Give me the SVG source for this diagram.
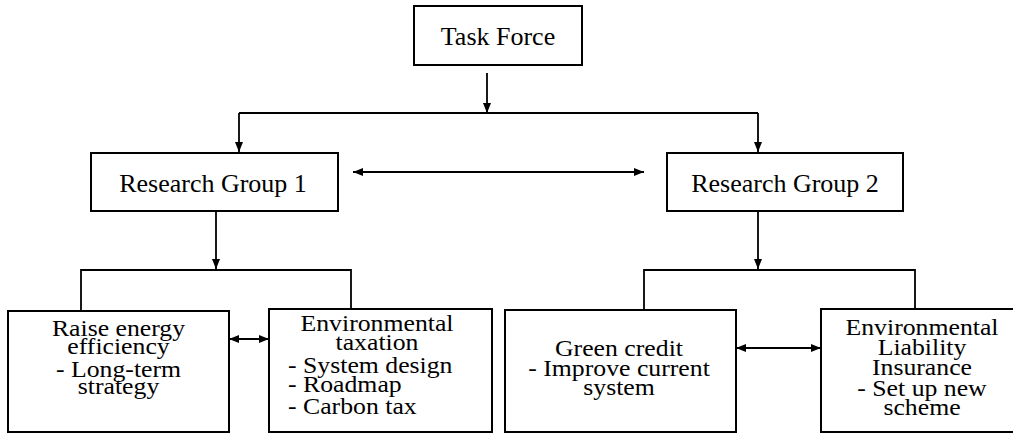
<svg xmlns="http://www.w3.org/2000/svg" width="1013" height="433" viewBox="0 0 1013 433">
<style>
.box{fill:#fff;stroke:#000;stroke-width:2}
.ln{fill:none;stroke:#000;stroke-width:1.8}
.t{font-family:"Liberation Serif","Times New Roman",serif;fill:#000}
.top{font-size:26px;text-anchor:middle}
.bot{font-size:23px}
.c{text-anchor:middle}
</style>
<defs>
<marker id="ah" viewBox="0 0 10 8" refX="10" refY="4" markerWidth="10" markerHeight="8" markerUnits="userSpaceOnUse" orient="auto-start-reverse">
<path d="M0,0 L10,4 L0,8 Z" fill="#000"/>
</marker>
</defs>
<rect width="1013" height="433" fill="#fff"/>
<g id="connectors">
<line class="ln" x1="487" y1="73" x2="487" y2="113" marker-end="url(#ah)"/>
<line class="ln" x1="239" y1="113" x2="758" y2="113"/>
<line class="ln" x1="239" y1="113" x2="239" y2="152" marker-end="url(#ah)"/>
<line class="ln" x1="758" y1="113" x2="758" y2="152" marker-end="url(#ah)"/>
<line class="ln" x1="353" y1="172" x2="644" y2="172" marker-start="url(#ah)" marker-end="url(#ah)"/>
<line class="ln" x1="216" y1="211" x2="216" y2="269" marker-end="url(#ah)"/>
<polyline class="ln" points="81,310 81,270 351,270 351,309"/>
<line class="ln" x1="758" y1="211" x2="758" y2="269" marker-end="url(#ah)"/>
<polyline class="ln" points="644,310 644,270 915,270 915,309"/>
<line class="ln" x1="229" y1="339" x2="269" y2="339" marker-start="url(#ah)" marker-end="url(#ah)"/>
<line class="ln" x1="736" y1="348" x2="821" y2="348" marker-start="url(#ah)" marker-end="url(#ah)"/>
</g>
<g id="task-force">
<rect class="box" x="414" y="6" width="168" height="59"/>
<text class="t top" x="498" y="45">Task Force</text>
</g>
<g id="research-group-1">
<rect class="box" x="91" y="153" width="247" height="58"/>
<text class="t top" x="213" y="192">Research Group 1</text>
</g>
<g id="research-group-2">
<rect class="box" x="667" y="153" width="236" height="58"/>
<text class="t top" x="785" y="192">Research Group 2</text>
</g>
<g id="energy-efficiency">
<rect class="box" x="8" y="311" width="221" height="121"/>
<text class="t bot c" transform="translate(118.5,0) scale(1.12,1)"><tspan x="0" y="336">Raise energy</tspan><tspan x="0" y="354">efficiency</tspan><tspan x="0" y="377">- Long-term</tspan><tspan x="0" y="394">strategy</tspan></text>
</g>
<g id="environmental-taxation">
<rect class="box" x="269" y="309" width="223" height="123"/>
<text class="t bot c" transform="translate(377,0) scale(1.12,1)"><tspan x="0" y="331">Environmental</tspan><tspan x="0" y="350">taxation</tspan></text>
<text class="t bot" transform="translate(288,0) scale(1.12,1)"><tspan x="0" y="373">- System design</tspan><tspan x="0" y="392">- Roadmap</tspan><tspan x="0" y="414">- Carbon tax</tspan></text>
</g>
<g id="green-credit">
<rect class="box" x="505" y="310" width="231" height="122"/>
<text class="t bot c" transform="translate(619,0) scale(1.12,1)"><tspan x="0" y="356">Green credit</tspan><tspan x="0" y="376">- Improve current</tspan><tspan x="0" y="395">system</tspan></text>
</g>
<g id="liability-insurance">
<rect class="box" x="821" y="309" width="202" height="123"/>
<text class="t bot c" transform="translate(922,0) scale(1.12,1)"><tspan x="0" y="335">Environmental</tspan><tspan x="0" y="355">Liability</tspan><tspan x="0" y="375">Insurance</tspan><tspan x="0" y="396">- Set up new</tspan><tspan x="0" y="415">scheme</tspan></text>
</g>
</svg>
